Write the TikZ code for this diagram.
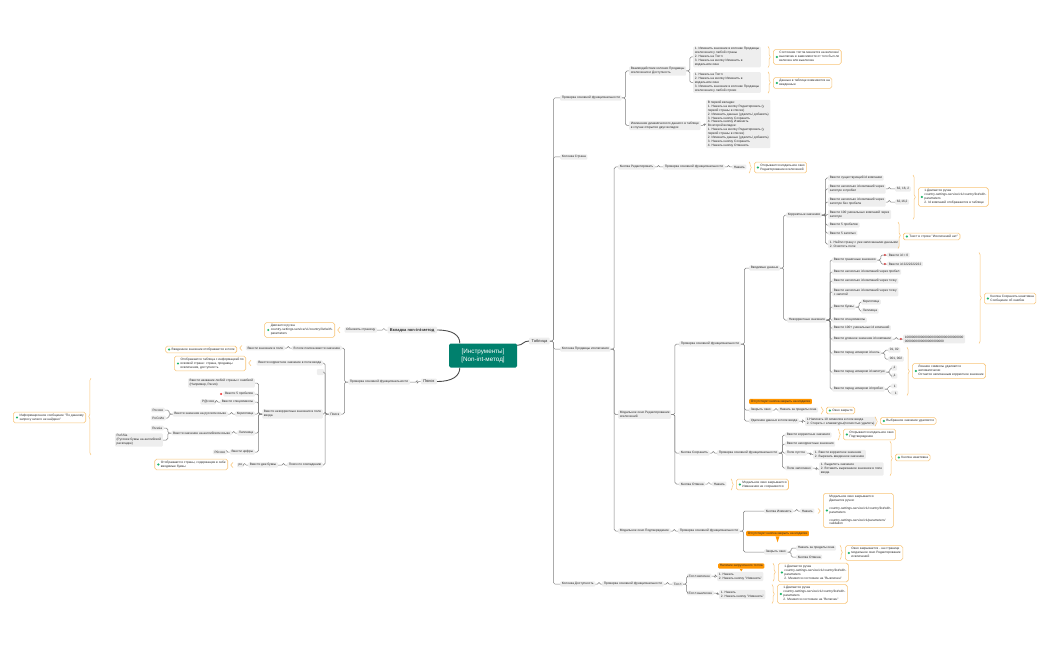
\documentclass[tikz,border=0pt]{standalone}
\usepackage{fontspec}
\setmainfont{Liberation Sans}
\usetikzlibrary{decorations.pathreplacing}
\definecolor{boxgray}{HTML}{EEEEEE}
\definecolor{txt}{HTML}{2B2B2B}
\definecolor{lnc}{HTML}{7E7E7E}
\definecolor{resbd}{HTML}{F8C477}
\definecolor{dotg}{HTML}{1FB46A}
\definecolor{dotr}{HTML}{EE4545}
\definecolor{callc}{HTML}{FF9500}
\definecolor{mainc}{HTML}{00806D}
\newcommand\fs{\fontsize{3.2}{3.9}\selectfont}
\newcommand\rt[1]{\hspace*{4.2pt}\begin{tabular}{@{}l@{}}#1\end{tabular}}
% connectors: right-hand and left-hand tree
\newcommand\cR[2]{\draw[ln] (#1.east) -- ++(3.5,0) |- (#2.west);}
\newcommand\cL[2]{\draw[ln] (#1.west) -- ++(-3.5,0) |- (#2.east);}
% braces: result node, top node, bottom node
\newcommand\bR[3]{\draw[br] ([xshift=-5pt]#1.west |- #2.north) -- ([xshift=-5pt]#1.west |- #3.south);}
\newcommand\bL[3]{\draw[br] ([xshift=5pt]#1.east |- #3.south) -- ([xshift=5pt]#1.east |- #2.north);}

\begin{document}
\begin{tikzpicture}[x=1pt,y=-1pt,
  gb/.style={fill=boxgray,rounded corners=1pt,inner xsep=1.6pt,inner ysep=1.2pt,align=left,font=\fs,text=txt},
  rb/.style={draw=resbd,line width=0.55pt,fill=white,rounded corners=1.8pt,inner xsep=2pt,inner ysep=1.5pt,font=\fs,text=txt,
    path picture={\fill[dotg] ([xshift=3.6pt]path picture bounding box.west) circle (1.15pt);}},
  cb/.style={fill=callc,rounded corners=1pt,inner xsep=1.6pt,inner ysep=1.2pt,font=\fs,text=txt},
  rd/.style={label={[circle,fill=dotr,inner sep=0pt,minimum size=2.4pt,xshift=-0.8pt]west:{}}},
  ln/.style={draw=lnc,line width=0.5pt,rounded corners=1.5pt},
  mln/.style={draw=black!70,line width=0.9pt},
  br/.style={draw=resbd,line width=0.55pt,decorate,decoration={brace,amplitude=2.3pt}},
  l1/.style={gb,font=\fontsize{4}{5}\selectfont,inner xsep=2.4pt,inner ysep=1.6pt}]
\useasboundingbox (0,0) rectangle (1050,650);

% centre and first level
\node[fill=mainc,text=white,rounded corners=1.5pt,minimum width=68pt,minimum height=24pt,align=center,
  font=\fontsize{6.3}{8}\selectfont] (cen) at (483,355.5) {{[Инструменты]}\\{[Non-int-метод]}};
\node[l1,font=\bfseries\fontsize{4}{5}\selectfont,anchor=east] (vkl) at (437,330) {Вкладка non-int-метод};
\node[l1,anchor=east] (poisk) at (437,381.5) {Поиск};
\node[l1,anchor=west] (tabl) at (529,341) {Таблица};
\draw[mln] (vkl.east) .. controls +(16,0) and +(0,-8) .. ([xshift=11pt]cen.north west);
\draw[mln] (poisk.east) .. controls +(16,0) and +(0,8) .. ([xshift=11pt]cen.south west);
\draw[mln] ([yshift=-2pt]cen.north east) .. controls +(6,0) and +(-6,0) .. (tabl.west);

% left: tab
\node[gb,anchor=east] (obn) at (377,330) {Обновить страницу};
\node[rb,anchor=east] (r_obn) at (335,330) {\rt{Двигается ручка\\country-settings-service/v1/country/list/with-\\parameters}};
\cL{vkl}{obn}
\bL{r_obn}{obn}{obn}

% left: search
\node[gb,anchor=east] (p_prov) at (410,382) {Проверка основной функциональности};
\node[gb,anchor=east] (p_vvod) at (342,348) {В поле поиска ввести значение};
\node[gb,anchor=east] (p_poisk) at (341,414) {Поиск};
\node[gb,anchor=east] (p_val) at (285,348) {Ввести значение в поле};
\node[rb,anchor=east] (r_val) at (237,349.5) {\rt{Введенное значение отображается в поле}};
\node[gb,anchor=east] (p_kor) at (323,363) {Ввести корректное значение в поле ввода};
\node[rb,anchor=east] (r_kor) at (246,363.5) {\rt{Отображается таблица с информацией по\\искомой стране: страна, продавцы\\исключения, доступность}};
\node[gb,anchor=east,minimum width=7pt,minimum height=6pt] (p_emp) at (324,372) {};
\node[gb,anchor=east] (p_nek) at (323,414) {Ввести некорректные значения в поле\\ввода};
\node[gb,anchor=east] (p_sov) at (323,465) {Поиск по совпадению};
\node[gb,anchor=east] (n_err) at (255,383) {Ввести название любой страны с ошибкой\\(Например, Расия)};
\node[gb,anchor=east,rd] (n_sp) at (255,394) {Ввести 5 пробелов};
\node[gb,anchor=east] (n_sym) at (255,402) {Ввести спецсимволы};
\node[gb,anchor=east] (n_sym1) at (216,402) {Р@ссия};
\node[gb,anchor=east] (n_cyr) at (255,414) {Кириллица};
\node[gb,anchor=east] (n_ru) at (228,414) {Ввести значение на русском языке};
\node[gb,anchor=east] (n_ru1) at (165,410) {Россия};
\node[gb,anchor=east] (n_ru2) at (166,418) {РоСсИя};
\node[gb,anchor=east] (n_lat) at (255,433) {Латиница};
\node[gb,anchor=east] (n_en) at (232,433) {Ввести значение на английском языке};
\node[gb,anchor=east] (n_en1) at (164,428) {Russia};
\node[gb,anchor=east] (n_en2) at (163,440) {RuSSia\\(Русские буквы на английской\\раскладке)};
\node[gb,anchor=east] (n_dig) at (255,452) {Ввести цифры};
\node[gb,anchor=east] (n_dig1) at (227,452) {Р0ссия};
\node[rb,anchor=east] (r_nek) at (86,417.5) {\rt{Информационное сообщение "По данному\\запросу ничего не найдено"}};
\node[gb,anchor=east] (s_two) at (278,465) {Ввести две буквы};
\node[gb,anchor=east] (s_ro) at (244,465) {ро};
\node[rb,anchor=east] (r_sov) at (228,464.5) {\rt{Отображаются страны, содержащие в себе\\вводимые буквы}};
\cL{poisk}{p_prov}
\cL{p_prov}{p_vvod} \cL{p_prov}{p_poisk}
\cL{p_vvod}{p_val}
\cL{p_poisk}{p_kor} \cL{p_poisk}{p_emp} \cL{p_poisk}{p_nek} \cL{p_poisk}{p_sov}
\cL{p_nek}{n_err} \cL{p_nek}{n_sp} \cL{p_nek}{n_sym} \cL{p_nek}{n_cyr} \cL{p_nek}{n_lat} \cL{p_nek}{n_dig}
\cL{n_sym}{n_sym1} \cL{n_cyr}{n_ru} \cL{n_ru}{n_ru1} \cL{n_ru}{n_ru2}
\cL{n_lat}{n_en} \cL{n_en}{n_en1} \cL{n_en}{n_en2} \cL{n_dig}{n_dig1}
\cL{p_sov}{s_two} \cL{s_two}{s_ro}
\bL{r_val}{p_val}{p_val}
\bL{r_kor}{p_kor}{p_kor}
\bL{r_nek}{n_err}{n_dig}
\bL{r_sov}{s_ro}{s_ro}

% right: table
\node[gb,anchor=west] (t_prov) at (560,98) {Проверка основной функциональности};
\node[gb,anchor=west] (t_str) at (560,157) {Колонка Страна};
\node[gb,anchor=west] (t_pr) at (560,349) {Колонка Продавцы исключения};
\node[gb,anchor=west] (t_dos) at (560,584) {Колонка Доступность};
\cR{tabl}{t_prov} \cR{tabl}{t_str} \cR{tabl}{t_pr} \cR{tabl}{t_dos}

\node[gb,anchor=west] (v_int) at (629,71) {Взаимодействие колонки Продавцы\\исключения и Доступность};
\node[gb,anchor=west] (v_dyn) at (629,125.5) {Изменение динамического данного в таблице\\в случае открытия двух вкладок};
\node[gb,anchor=west] (v_s1) at (693,57) {1. Изменить значение в колонке Продавцы\\исключения у любой страны\\2. Нажать на Тоггл\\3. Нажать на кнопку Изменить в\\модальном окне};
\node[gb,anchor=west] (v_s2) at (693,82.5) {1. Нажать на Тоггл\\2. Нажать на кнопку Изменить в\\модальном окне\\3. Изменить значение в колонке Продавцы\\исключения у любой строки};
\node[rb,anchor=west] (r_s1) at (773,57) {\rt{Состояние тоггла меняется на включен/\\выключен в зависимости от того был ли\\включен или выключен}};
\node[rb,anchor=west] (r_s2) at (773,83) {\rt{Данные в таблице изменяются на\\введенные}};
\node[gb,anchor=west] (v_tabs) at (706,124) {В первой вкладке:\\1. Нажать на кнопку Редактировать (у\\первой страны в списке)\\2. Изменить данные (удалить/ добавить)\\3. Нажать кнопку Сохранить\\4. Нажать кнопку Изменить\\Во второй вкладке:\\1. Нажать на кнопку Редактировать (у\\первой страны в списке)\\2. Изменить данные (удалить/ добавить)\\3. Нажать кнопку Сохранить\\4. Нажать кнопку Отменить};
\cR{t_prov}{v_int} \cR{t_prov}{v_dyn}
\cR{v_int}{v_s1} \cR{v_int}{v_s2} \cR{v_dyn}{v_tabs}
\bR{r_s1}{v_s1}{v_s1} \bR{r_s2}{v_s2}{v_s2}

% sellers column
\node[gb,anchor=west] (e_btn) at (618,167) {Кнопка Редактировать};
\node[gb,anchor=west] (e_prov) at (663,167) {Проверка основной функциональности};
\node[gb,anchor=west] (e_push) at (732,167) {Нажать};
\node[rb,anchor=west] (r_e) at (754,167.5) {\rt{Открывается модальное окно\\Редактирование исключений}};
\node[gb,anchor=west] (m_ed) at (618,414.5) {Модальное окно Редактирование\\исключений};
\node[gb,anchor=west] (m_conf) at (618,531) {Модальное окно Подтверждение};
\cR{t_pr}{e_btn} \cR{t_pr}{m_ed} \cR{t_pr}{m_conf}
\cR{e_btn}{e_prov} \cR{e_prov}{e_push}
\bR{r_e}{r_e}{r_e}

\node[gb,anchor=west] (m_prov) at (679,344) {Проверка основной функциональности};
\node[gb,anchor=west] (m_save) at (679,453) {Кнопка Сохранить};
\node[gb,anchor=west] (m_canc) at (679,484) {Кнопка Отмена};
\node[gb,anchor=west] (d_in) at (749,268) {Вводимые данные};
\node[cb,anchor=west] (d_note) at (749,401.5) {Отсутствует кнопка закрыть на модалке};
\node[gb,anchor=west] (d_close) at (749,410) {Закрыть окно};
\node[gb,anchor=west] (d_del) at (749,421) {Удаление данных в поле ввода};
\cR{m_ed}{m_prov} \cR{m_ed}{m_save} \cR{m_ed}{m_canc}
\cR{m_prov}{d_in} \cR{m_prov}{d_close} \cR{m_prov}{d_del}

\node[gb,anchor=west] (c_ok) at (786,215) {Корректные значения};
\node[gb,anchor=west] (c_bad) at (787,320) {Некорректные значения};
\cR{d_in}{c_ok} \cR{d_in}{c_bad}

\node[gb,anchor=west] (c_e1) at (828,178) {Ввести существующий id компании};
\node[gb,anchor=west] (c_e2) at (828,189) {Ввести несколько id компаний через\\запятую и пробел};
\node[gb,anchor=west] (c_e2a) at (895,189) {62, 16, 2};
\node[gb,anchor=west] (c_e3) at (828,202) {Ввести несколько id компаний через\\запятую без пробела};
\node[gb,anchor=west] (c_e3a) at (895,202) {62,16,2};
\node[gb,anchor=west] (c_e4) at (828,214.5) {Ввести 100 уникальных компаний через\\запятую};
\node[gb,anchor=west] (c_e5) at (828,225) {Ввести 5 пробелов};
\node[gb,anchor=west] (c_e6) at (828,233) {Ввести 5 запятых};
\node[gb,anchor=west] (c_e7) at (828,244) {1. Найти страну с уже записанными данными\\2. Очистить поле};
\node[rb,anchor=west] (r_c1) at (918,197) {\rt{1.Двигается ручка\\country-settings-service/v1/country/list/with-\\parameters\\2. Id компаний отображаются в таблице}};
\node[rb,anchor=west] (r_c2) at (903,236.5) {\rt{Текст в строке "Исключений нет"}};
\cR{c_ok}{c_e1} \cR{c_ok}{c_e2} \cR{c_ok}{c_e3} \cR{c_ok}{c_e4} \cR{c_ok}{c_e5} \cR{c_ok}{c_e6} \cR{c_ok}{c_e7}
\cR{c_e2}{c_e2a} \cR{c_e3}{c_e3a}
\bR{r_c1}{c_e1}{c_e4} \bR{r_c2}{c_e5}{c_e7}

\node[gb,anchor=west] (b_lim) at (832,260) {Ввести граничные значения};
\node[gb,anchor=west,rd] (b_lim1) at (887,255) {Ввести id = 0};
\node[gb,anchor=west,rd] (b_lim2) at (887,264) {Ввести id 2222222222};
\node[gb,anchor=west] (b_sp) at (832,272) {Ввести несколько id компаний через пробел};
\node[gb,anchor=west] (b_dot) at (832,281) {Ввести несколько id компаний через точку};
\node[gb,anchor=west] (b_sc) at (832,292) {Ввести несколько id компаний через точку\\с запятой};
\node[gb,anchor=west] (b_let) at (832,307) {Ввести буквы};
\node[gb,anchor=west] (b_cyr) at (861,302) {Кириллица};
\node[gb,anchor=west] (b_lat) at (861,311) {Латиница};
\node[gb,anchor=west] (b_sym) at (832,320) {Ввести спецсимволы};
\node[gb,anchor=west] (b_100) at (832,328) {Ввести 100+ уникальных id компаний};
\node[gb,anchor=west] (b_long) at (832,339) {Ввести длинное значение id компании};
\node[gb,anchor=west,rd] (b_long1) at (903,339) {100000000000000000000000000000000\\0000000000000000000000};
\node[gb,anchor=west] (b_zero) at (832,353) {Ввести перед номером id ноль};
\node[gb,anchor=west] (b_zero1) at (888,350) {01, 02};
\node[gb,anchor=west] (b_zero2) at (888,359) {001, 002};
\node[gb,anchor=west] (b_com) at (832,372) {Ввести перед номером id запятую};
\node[gb,anchor=west] (b_com1) at (891,368) {,1};
\node[gb,anchor=west] (b_com2) at (891,376) {,,1};
\node[gb,anchor=west] (b_spc) at (832,389) {Ввести перед номером id пробел};
\node[gb,anchor=west] (b_spc1) at (891,386) {\hspace*{1pt}1};
\node[gb,anchor=west] (b_spc2) at (891,393) {\hspace*{2pt}1};
\node[rb,anchor=west] (r_b1) at (984,298.5) {\rt{Кнопка Сохранить неактивна\\Сообщение об ошибке}};
\node[rb,anchor=west] (r_b2) at (912,371) {\rt{Лишние символы удаляются\\автоматически\\Остается записанным корректное значение}};
\cR{c_bad}{b_lim} \cR{c_bad}{b_sp} \cR{c_bad}{b_dot} \cR{c_bad}{b_sc} \cR{c_bad}{b_let} \cR{c_bad}{b_sym}
\cR{c_bad}{b_100} \cR{c_bad}{b_long} \cR{c_bad}{b_zero} \cR{c_bad}{b_com} \cR{c_bad}{b_spc}
\cR{b_lim}{b_lim1} \cR{b_lim}{b_lim2} \cR{b_let}{b_cyr} \cR{b_let}{b_lat} \cR{b_long}{b_long1}
\cR{b_zero}{b_zero1} \cR{b_zero}{b_zero2} \cR{b_com}{b_com1} \cR{b_com}{b_com2} \cR{b_spc}{b_spc1} \cR{b_spc}{b_spc2}
\bR{r_b1}{b_lim1}{b_long1} \bR{r_b2}{b_zero1}{b_spc2}

\node[gb,anchor=west] (x_out) at (778,410) {Нажать за пределы окна};
\node[rb,anchor=west] (r_x) at (826,410.5) {\rt{Окно закрыто}};
\node[gb,anchor=west] (x_del) at (805,421.5) {1.Написать 10 символов в поле ввода\\2. Стереть с клавиатуры(полностью удалить)};
\node[rb,anchor=west] (r_del) at (880,421) {\rt{Выбранное значение удаляется}};
\cR{d_close}{x_out} \cR{d_del}{x_del}
\bR{r_x}{r_x}{r_x} \bR{r_del}{x_del}{x_del}

% save / cancel
\node[gb,anchor=west] (s_prov) at (717,453) {Проверка основной функциональности};
\node[gb,anchor=west] (s_ok) at (785,435) {Ввести корректные значения};
\node[rb,anchor=west] (r_sok) at (843,434.5) {\rt{Открывается модальное окно\\Подтверждение}};
\node[gb,anchor=west] (s_bad) at (785,444) {Ввести некорректные значения};
\node[gb,anchor=west] (s_emp) at (785,453) {Поле пустое};
\node[gb,anchor=west] (s_emp1) at (813,454.5) {1. Ввести корректное значение\\2. Вырезать введенное значение};
\node[gb,anchor=west] (s_full) at (785,468) {Поле заполнено};
\node[gb,anchor=west] (s_full1) at (819,469) {1. Выделить значение\\2. Вставить вырезанное значение в поле\\ввода};
\node[rb,anchor=west] (r_sna) at (895,457.5) {\rt{Кнопка неактивна}};
\cR{m_save}{s_prov}
\cR{s_prov}{s_ok} \cR{s_prov}{s_bad} \cR{s_prov}{s_emp} \cR{s_prov}{s_full}
\cR{s_emp}{s_emp1} \cR{s_full}{s_full1}
\bR{r_sok}{r_sok}{r_sok} \bR{r_sna}{s_bad}{s_full1}

\node[gb,anchor=west] (q_push) at (712,484) {Нажать};
\node[rb,anchor=west] (r_q) at (736,484.5) {\rt{Модальное окно закрывается\\Изменения не сохраняются}};
\cR{m_canc}{q_push}
\bR{r_q}{r_q}{r_q}

% confirmation window
\node[gb,anchor=west] (f_prov) at (678,531) {Проверка основной функциональности};
\node[gb,anchor=west] (f_chg) at (764,511) {Кнопка Изменить};
\node[gb,anchor=west] (f_push) at (800,511) {Нажать};
\node[rb,anchor=west] (r_f) at (823,510.5) {\rt{Модальное окно закрывается\\Двигается ручки:\\\\country-settings-service/v1/country/list/with-\\parameters\\\\country-settings-service/v1/parameters/\\validation}};
\node[cb,anchor=west] (f_note) at (746,533.5) {Отсутствует кнопка закрыть на модалке};
\node[gb,anchor=west] (f_close) at (764,552) {Закрыть окно};
\node[gb,anchor=west] (f_out) at (796,548) {Нажать за пределы окна};
\node[gb,anchor=west] (f_canc) at (796,557) {Кнопка Отмена};
\node[rb,anchor=west] (r_fc) at (845,553) {\rt{Окно закрывается - на странице\\модальное окно Редактирование\\исключений}};
\fill[callc] ([xshift=-2pt]f_note.south) -- ([xshift=2pt]f_note.south) -- ([yshift=-6pt]f_note.south) -- cycle;
\cR{m_conf}{f_prov}
\cR{f_prov}{f_chg} \cR{f_prov}{f_close}
\cR{f_chg}{f_push} \cR{f_close}{f_out} \cR{f_close}{f_canc}
\bR{r_f}{f_push}{f_push} \bR{r_fc}{f_out}{f_canc}

% availability column
\node[gb,anchor=west] (a_prov) at (602,584) {Проверка основной функциональности};
\node[gb,anchor=west] (a_tog) at (672,584) {Тоггл};
\node[gb,anchor=west] (a_on) at (687,576) {Тоггл включен};
\node[gb,anchor=west] (a_on1) at (717,576.5) {1. Нажать\\2. Нажать кнопку "Изменить"};
\node[cb,anchor=west] (a_note) at (718,566) {Наличие загрузочного тоггла};
\node[rb,anchor=west] (r_on) at (778,572.5) {\rt{1.Двигается ручка\\country-settings-service/v1/country/list/with-\\parameters\\2. Меняется состояние на "Выключен"}};
\node[gb,anchor=west] (a_off) at (687,593) {Тоггл выключен};
\node[gb,anchor=west] (a_off1) at (719,594.5) {1. Нажать\\2. Нажать кнопку "Изменить"};
\node[rb,anchor=west] (r_off) at (777,594) {\rt{1.Двигается ручка\\country-settings-service/v1/country/list/with-\\parameters\\2. Меняется состояние на "Включен"}};
\fill[callc] ([xshift=-1.6pt]a_note.south) -- ([xshift=1.6pt]a_note.south) -- ([yshift=-2.5pt]a_note.south) -- cycle;
\cR{t_dos}{a_prov} \cR{a_prov}{a_tog}
\cR{a_tog}{a_on} \cR{a_tog}{a_off}
\cR{a_on}{a_on1} \cR{a_off}{a_off1}
\bR{r_on}{a_note}{a_on1} \bR{r_off}{r_off}{r_off}
\end{tikzpicture}
\end{document}
